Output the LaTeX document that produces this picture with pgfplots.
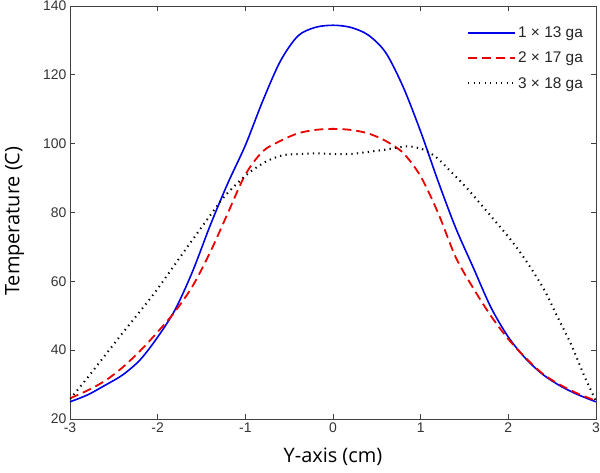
\documentclass[border=0pt]{standalone}
\usepackage{pgfplots}
\pgfplotsset{compat=1.18}
\usepackage{fontspec}
\setmainfont{Liberation Sans}
\newfontfamily\labelfont{Open Sans}
\definecolor{mblue}{RGB}{0,0,230}
\definecolor{mred}{RGB}{235,0,0}
\begin{document}
\begin{tikzpicture}
\begin{axis}[
  scale only axis, width=526bp, height=413bp,
  at={(0,0)}, anchor=south west,
  xmin=-3, xmax=3, ymin=20, ymax=140,
  xtick={-3,-2,-1,0,1,2,3}, ytick={20,40,60,80,100,120,140},
  tick align=inside, major tick length=5bp,
  axis line style={black!75, line width=0.7bp},
  every tick/.style={black!75, line width=0.7bp},
  tick label style={font=\fontsize{14}{16}\selectfont, text=black!80},
  /pgf/number format/assume math mode=true,
  xlabel={Y-axis (cm)}, ylabel={Temperature (C)},
  xlabel style={at={(axis description cs:0.5,0)}, anchor=center, yshift=-38bp, font=\labelfont\fontsize{20}{22}\selectfont},
  ylabel style={at={(axis description cs:-0.1055,0.479)}, anchor=center, rotate=0, font=\labelfont\fontsize{20}{22}\selectfont},
  legend style={at={(axis description cs:0.985,0.96)}, anchor=north east, draw=none, fill=none,
    font=\fontsize{15.5}{17}\selectfont, row sep=9bp, text=black!85},
  legend cell align=left,
  legend image code/.code={\draw[#1, line width=2bp] (0bp,0bp) -- (47bp,0bp);},
  clip=true,
]
\addplot[mblue, line width=1.6bp, smooth, tension=0.5] coordinates {
(-3,25.0) (-2.8,27.0) (-2.6,29.8) (-2.4,32.8) (-2.2,37.2) (-2.0,43.8) (-1.8,51.8) (-1.6,63.0) (-1.4,76.3) (-1.2,88.5) (-1.0,99.5) (-0.8,112.5) (-0.6,124.0) (-0.4,131.3) (-0.2,133.8) (0,134.4) (0.2,133.8) (0.4,131.6) (0.6,126.5) (0.8,116.5) (1.0,103.5) (1.2,89.0) (1.4,75.5) (1.6,64.0) (1.8,52.5) (2.0,43.8) (2.2,37.5) (2.4,32.8) (2.6,29.5) (2.8,27.0) (3.0,25.0)
};
\addlegendentry{1 × 13 ga}
\addplot[mred, line width=1.8bp, dash pattern=on 9bp off 5bp, smooth, tension=0.5] coordinates {
(-3,26.0) (-2.8,28.3) (-2.6,31.1) (-2.4,35.0) (-2.2,39.8) (-2.0,45.3) (-1.8,51.3) (-1.6,58.7) (-1.4,68.5) (-1.2,79.8) (-1.0,91.0) (-0.8,97.8) (-0.6,100.8) (-0.4,103.0) (-0.2,104.0) (0,104.3) (0.2,104.0) (0.4,103.0) (0.6,100.8) (0.8,97.3) (1.0,90.5) (1.2,79.8) (1.4,67.0) (1.6,58.0) (1.8,50.0) (2.0,43.2) (2.2,37.7) (2.4,33.0) (2.6,29.8) (2.8,27.3) (3.0,25.3)
};
\addlegendentry{2 × 17 ga}
\addplot[black, line width=2bp, dash pattern=on 1.3bp off 4.2bp, smooth, tension=0.5] coordinates {
(-3,25.8) (-2.8,32.0) (-2.6,38.5) (-2.4,45.0) (-2.2,51.3) (-2.01,57.5) (-1.82,64.3) (-1.63,71.1) (-1.44,77.8) (-1.25,84.3) (-1.1,88.3) (-0.94,91.9) (-0.75,95.0) (-0.56,96.7) (-0.37,97.0) (-0.18,97.2) (0,97.0) (0.2,97.0) (0.4,97.6) (0.58,98.2) (0.85,99.2) (1.04,98.2) (1.19,95.8) (1.34,92.0) (1.53,87.0) (1.8,79.0) (2.03,72.0) (2.22,65.3) (2.41,57.5) (2.56,49.7) (2.71,42.0) (2.87,32.3) (3,25.2)
};
\addlegendentry{3 × 18 ga}
\node[font=\labelfont\fontsize{20}{22}\selectfont, anchor=center] at (axis description cs:-0.099,-0.094) {A};
\end{axis}
\pgfresetboundingbox
\useasboundingbox (-70bp,-54bp) rectangle (530bp,419bp);
\end{tikzpicture}
\end{document}
